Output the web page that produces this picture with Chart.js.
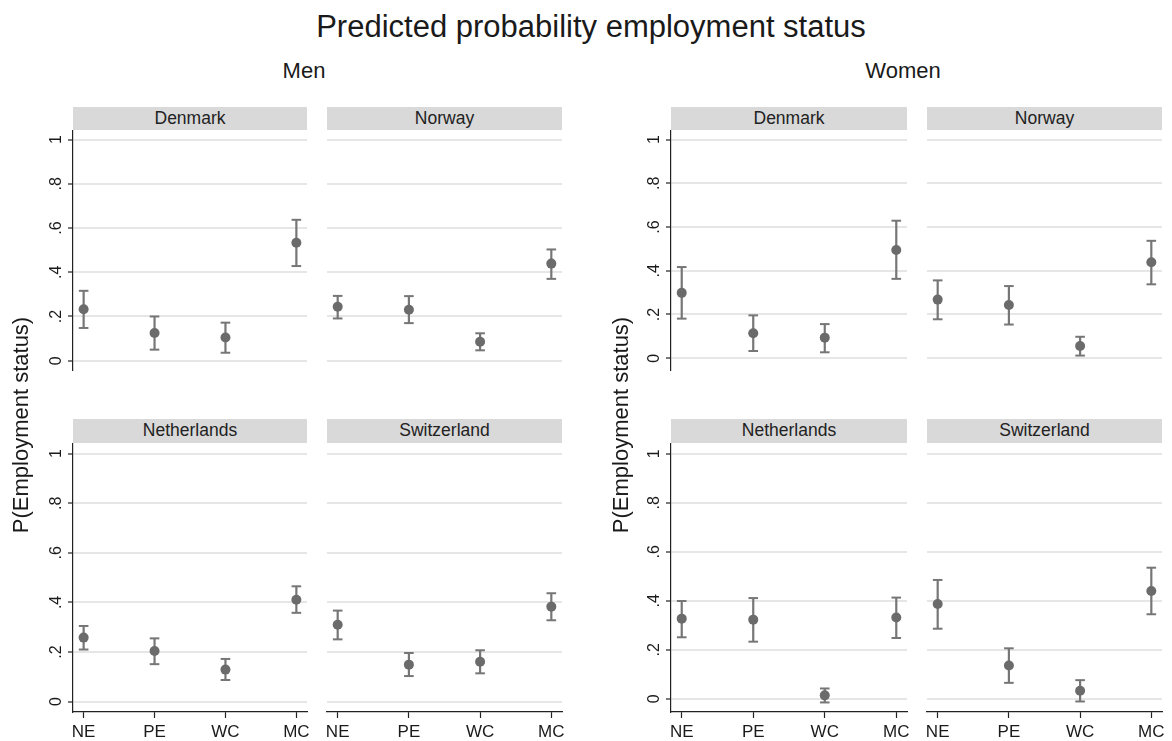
<!DOCTYPE html>
<html>
<head>
<meta charset="utf-8">
<script src="https://cdn.jsdelivr.net/npm/chart.js@4.4.1/dist/chart.umd.min.js"></script>
<style>
html,body{margin:0;padding:0;background:#fff;}
#fig{position:relative;width:1172px;height:741px;overflow:hidden;font-family:"Liberation Sans",Arial,Helvetica,sans-serif;color:#1a1a1a;background:#fff;}
.txt{position:absolute;white-space:nowrap;text-align:center;z-index:5;}
.strip{position:absolute;background:#d9d9d9;text-align:center;font-size:17.5px;line-height:22px;color:#222;white-space:nowrap;}
canvas{position:absolute;}
</style>
</head>
<body>
<div id="fig">
  <div class="txt" style="left:291px;top:11px;width:600px;font-size:31px;line-height:31px;">Predicted probability employment status</div>
  <div class="txt" style="left:204px;top:60px;width:200px;font-size:22px;line-height:22px;">Men</div>
  <div class="txt" style="left:803px;top:60px;width:200px;font-size:22px;line-height:22px;">Women</div>
  <div class="txt" style="left:-129px;top:414px;width:300px;font-size:22px;line-height:22px;transform:rotate(-90deg);">P(Employment status)</div>
  <div class="txt" style="left:471px;top:414px;width:300px;font-size:22px;line-height:22px;transform:rotate(-90deg);">P(Employment status)</div>
</div>
<script>
// ---------- data ----------
const categories = ['NE', 'PE', 'WC', 'MC'];
const countries = ['Denmark', 'Norway', 'Netherlands', 'Switzerland'];
const yTickValues = [0, 0.2, 0.4, 0.6, 0.8, 1];
const yTickLabels = ['0', '.2', '.4', '.6', '.8', '1'];

// Men
const menDenmarkEst  = [0.233, 0.125, 0.105, 0.533];
const menDenmarkLow  = [0.148, 0.050, 0.036, 0.428];
const menDenmarkHigh = [0.316, 0.200, 0.172, 0.637];
const menNorwayEst  = [0.244, 0.230, 0.086, 0.439];
const menNorwayLow  = [0.191, 0.170, 0.047, 0.370];
const menNorwayHigh = [0.293, 0.292, 0.124, 0.503];
const menNetherlandsEst  = [0.258, 0.204, 0.129, 0.411];
const menNetherlandsLow  = [0.210, 0.151, 0.087, 0.358];
const menNetherlandsHigh = [0.305, 0.255, 0.172, 0.465];
const menSwitzerlandEst  = [0.310, 0.149, 0.161, 0.383];
const menSwitzerlandLow  = [0.251, 0.103, 0.114, 0.328];
const menSwitzerlandHigh = [0.367, 0.196, 0.207, 0.437];

// Women
const womenDenmarkEst  = [0.299, 0.114, 0.094, 0.495];
const womenDenmarkLow  = [0.181, 0.033, 0.027, 0.363];
const womenDenmarkHigh = [0.417, 0.196, 0.156, 0.629];
const womenNorwayEst  = [0.268, 0.243, 0.056, 0.439];
const womenNorwayLow  = [0.178, 0.154, 0.012, 0.338];
const womenNorwayHigh = [0.356, 0.330, 0.098, 0.537];
const womenNetherlandsEst  = [0.327, 0.323, 0.014, 0.332];
const womenNetherlandsLow  = [0.251, 0.233, -0.015, 0.248];
const womenNetherlandsHigh = [0.399, 0.411, 0.042, 0.413];
const womenSwitzerlandEst  = [0.387, 0.136, 0.033, 0.440];
const womenSwitzerlandLow  = [0.286, 0.065, -0.011, 0.345];
const womenSwitzerlandHigh = [0.485, 0.206, 0.076, 0.535];

// ---------- layout ----------
Chart.defaults.font.family = '"Liberation Sans", Arial, Helvetica, sans-serif';
const MEN_Y = [-0.042, 1.043];
const WOMEN_Y = [-0.054, 1.044];
const X_RANGE = [0.85, 4.15];

const panels = [
  {est: menDenmarkEst, low: menDenmarkLow, high: menDenmarkHigh, name: countries[0], left: 73, top: 130, w: 234, h: 269, stripTop: 107, stripH: 23, yAxis: true, xAxis: false, yr: MEN_Y},
  {est: menNorwayEst, low: menNorwayLow, high: menNorwayHigh, name: countries[1], left: 327, top: 130, w: 235, h: 269, stripTop: 107, stripH: 23, yAxis: false, xAxis: false, yr: MEN_Y},
  {est: menNetherlandsEst, low: menNetherlandsLow, high: menNetherlandsHigh, name: countries[2], left: 73, top: 443, w: 234, h: 269, stripTop: 419, stripH: 24, yAxis: true, xAxis: true, yr: MEN_Y},
  {est: menSwitzerlandEst, low: menSwitzerlandLow, high: menSwitzerlandHigh, name: countries[3], left: 327, top: 443, w: 235, h: 269, stripTop: 419, stripH: 24, yAxis: false, xAxis: true, yr: MEN_Y},
  {est: womenDenmarkEst, low: womenDenmarkLow, high: womenDenmarkHigh, name: countries[0], left: 671, top: 130, w: 236, h: 269, stripTop: 107, stripH: 23, yAxis: true, xAxis: false, yr: WOMEN_Y},
  {est: womenNorwayEst, low: womenNorwayLow, high: womenNorwayHigh, name: countries[1], left: 927, top: 130, w: 235, h: 269, stripTop: 107, stripH: 23, yAxis: false, xAxis: false, yr: WOMEN_Y},
  {est: womenNetherlandsEst, low: womenNetherlandsLow, high: womenNetherlandsHigh, name: countries[2], left: 671, top: 443, w: 236, h: 269, stripTop: 419, stripH: 24, yAxis: true, xAxis: true, yr: WOMEN_Y},
  {est: womenSwitzerlandEst, low: womenSwitzerlandLow, high: womenSwitzerlandHigh, name: countries[3], left: 927, top: 443, w: 235, h: 269, stripTop: 419, stripH: 24, yAxis: false, xAxis: true, yr: WOMEN_Y}
];

const fig = document.getElementById('fig');
const Y_AXIS_W = 43, PAD_R = 10, PAD_L = 8, X_AXIS_H = 29;
const DOT = '#6b6b6b', BAR = '#767676', AXIS = '#222';

panels.forEach(p => {
  const strip = document.createElement('div');
  strip.className = 'strip';
  strip.style.left = p.left + 'px';
  strip.style.top = p.stripTop + 'px';
  strip.style.width = p.w + 'px';
  strip.style.height = p.stripH + 'px';
  strip.textContent = p.name;
  fig.appendChild(strip);

  const padLeft = p.yAxis ? 0 : PAD_L;
  const axisW = p.yAxis ? Y_AXIS_W : 0;
  const cv = document.createElement('canvas');
  const cw = padLeft + axisW + p.w + PAD_R;
  const ch = p.h + (p.xAxis ? X_AXIS_H : 0);
  cv.width = cw; cv.height = ch;
  cv.style.width = cw + 'px'; cv.style.height = ch + 'px';
  cv.style.left = (p.left - axisW - padLeft) + 'px';
  cv.style.top = p.top + 'px';
  fig.appendChild(cv);

  const datasets = [{
    data: p.est.map((v, i) => ({x: i + 1, y: v})),
    showLine: false,
    pointRadius: 5,
    pointBackgroundColor: DOT,
    pointBorderColor: DOT,
    pointBorderWidth: 0,
    order: 0
  }];
  categories.forEach((c, i) => {
    datasets.push({
      data: [{x: i + 1, y: p.low[i]}, {x: i + 1, y: p.high[i]}],
      showLine: true,
      borderColor: BAR,
      borderWidth: 2.2,
      pointStyle: 'line',
      pointRadius: 4.8,
      pointBorderColor: BAR,
      pointBorderWidth: 2,
      order: 1
    });
  });

  new Chart(cv, {
    type: 'scatter',
    data: {datasets},
    options: {
      responsive: false,
      animation: false,
      events: [],
      layout: {autoPadding: false, padding: {left: padLeft, right: PAD_R, top: 0, bottom: 0}},
      plugins: {legend: {display: false}, tooltip: {enabled: false}, title: {display: false}},
      scales: {
        x: {
          type: 'linear', position: 'bottom',
          min: X_RANGE[0], max: X_RANGE[1],
          display: p.xAxis,
          afterBuildTicks: s => { s.ticks = categories.map((c, i) => ({value: i + 1})); },
          ticks: {callback: (v, i) => categories[i], font: {size: 17}, color: '#1a1a1a', padding: 4, minRotation: 0, maxRotation: 0, autoSkip: false},
          grid: {display: true, drawOnChartArea: false, drawTicks: true, tickLength: 6, tickColor: AXIS, tickWidth: 1.2},
          border: {display: true, color: AXIS, width: 1.2},
          afterFit: s => { s.height = X_AXIS_H; s.paddingLeft = 0; s.paddingRight = 0; }
        },
        y: {
          type: 'linear', position: 'left',
          min: p.yr[0], max: p.yr[1],
          display: true,
          afterBuildTicks: s => { s.ticks = yTickValues.map(v => ({value: v})); },
          ticks: {display: p.yAxis, callback: (v, i) => yTickLabels[i], font: {size: 16}, color: '#1a1a1a', padding: 5, minRotation: 90, maxRotation: 90, crossAlign: 'center', autoSkip: false},
          grid: {color: '#e6e6e6', lineWidth: 2, drawTicks: p.yAxis, tickLength: 5, tickColor: AXIS, tickWidth: 1.2},
          border: {display: p.yAxis, color: AXIS, width: 1.2},
          afterFit: s => { s.width = axisW; s.paddingTop = 0; s.paddingBottom = 0; }
        }
      }
    }
  });
});
</script>
</body>
</html>
